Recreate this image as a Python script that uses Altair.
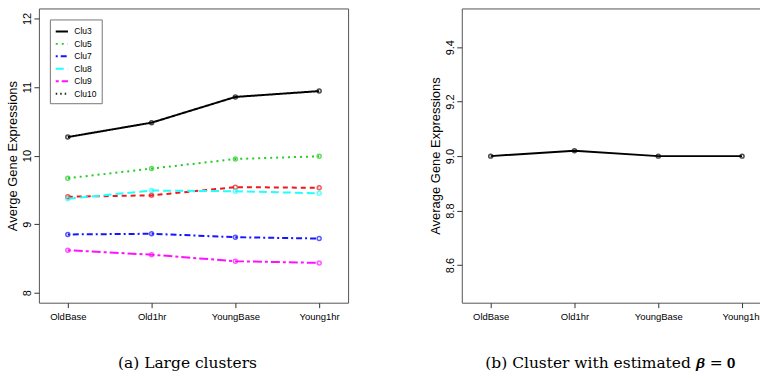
import altair as alt
import pandas as pd

stages = ["OldBase", "Old1hr", "YoungBase", "Young1hr"]

clu3 = [10.27, 10.48, 10.855, 10.94]
clu4 = [9.40, 9.42, 9.54, 9.53]
clu5 = [9.67, 9.81, 9.95, 9.99]
clu7 = [8.85, 8.86, 8.81, 8.79]
clu8 = [9.37, 9.49, 9.48, 9.45]
clu9 = [8.62, 8.555, 8.46, 8.435]
beta0 = [9.0, 9.02, 9.0, 9.0]

series_names = ["Clu3", "Clu4", "Clu5", "Clu7", "Clu8", "Clu9", "Clu10"]
legend_names = ["Clu3", "Clu5", "Clu7", "Clu8", "Clu9", "Clu10"]
series_colors = ["#000000", "#f01818", "#22cc22", "#1515ff", "#22ffff", "#ff10ff", "#222222"]
series_dashes = [[1, 0], [5, 4], [2, 4], [2, 3, 6, 3], [8, 4], [3, 3, 9, 3], [1.5, 3]]

large = {"Clu3": clu3, "Clu4": clu4, "Clu5": clu5, "Clu7": clu7,
         "Clu8": clu8, "Clu9": clu9}
rows = []
for name, vals in large.items():
    for s, v in zip(stages, vals):
        rows.append({"series": name, "stage": s, "value": v})
df_left = pd.DataFrame(rows)
df_right = pd.DataFrame({"stage": stages, "value": beta0})

SANS = "Liberation Sans"
W, H = 310, 295
xscale = alt.Scale(domain=stages, type="point", padding=0.345)
xaxis = alt.Axis(title=None, labelFont=SANS, labelFontSize=9.5,
                 labelPadding=4, tickSize=5, domain=False, labelAngle=0)


def make_legend():
    return alt.Legend(values=legend_names, title=None, orient="none",
                      legendX=11, legendY=11, symbolType="stroke",
                      symbolSize=150, symbolStrokeWidth=2,
                      labelFont=SANS, labelFontSize=8.5,
                      labelOffset=5, rowPadding=0.5, padding=4.5,
                      strokeColor="#777", fillColor="white")


color = alt.Color("series:N", scale=alt.Scale(domain=series_names, range=series_colors),
                  legend=make_legend())
dash = alt.StrokeDash("series:N", scale=alt.Scale(domain=series_names, range=series_dashes),
                      legend=make_legend())

yleft = alt.Y("value:Q", scale=alt.Scale(domain=[7.855, 12.145], nice=False, zero=False),
              axis=alt.Axis(title="Averge Gene Expressions", values=[8, 9, 10, 11, 12],
                            labelAngle=-90, labelFontSize=11, labelPadding=1, tickSize=5,
                            titleFontSize=13, titleFontWeight="normal", titlePadding=2,
                            domain=False))

lines = alt.Chart(df_left).mark_line(strokeWidth=2).encode(
    x=alt.X("stage:N", scale=xscale, axis=xaxis, sort=stages),
    y=yleft, color=color, strokeDash=dash,
)
pts = alt.Chart(df_left).mark_point(shape="circle", filled=False, size=16, strokeWidth=1.5).encode(
    x=alt.X("stage:N", scale=xscale, axis=xaxis, sort=stages),
    y=yleft,
    color=alt.Color("series:N", scale=alt.Scale(domain=series_names, range=series_colors), legend=None),
)
left = alt.layer(lines, pts).properties(
    width=W, height=H,
    title=alt.TitleParams("(a) Large clusters", orient="bottom", offset=35, dx=-6),
)

yright = alt.Y("value:Q", scale=alt.Scale(domain=[8.462, 9.542], nice=False, zero=False),
               axis=alt.Axis(title="Average Gene Expressions", values=[8.6, 8.8, 9.0, 9.2, 9.4],
                             format=".1f", labelAngle=-90, labelFontSize=11, labelPadding=1,
                             tickSize=5, titleFontSize=13, titleFontWeight="normal",
                             titlePadding=2, domain=False))
rline = alt.Chart(df_right).mark_line(strokeWidth=2, color="black").encode(
    x=alt.X("stage:N", scale=xscale, axis=xaxis, sort=stages), y=yright)
rpts = alt.Chart(df_right).mark_point(shape="circle", filled=False, size=16, strokeWidth=1.5,
                                      color="black").encode(
    x=alt.X("stage:N", scale=xscale, axis=xaxis, sort=stages), y=yright)
right = alt.layer(rline, rpts).properties(
    width=W, height=H,
    title=alt.TitleParams("(b) Cluster with estimated \U0001D737 = \U0001D7CE", orient="bottom",
                          offset=35, dx=-6),
)

chart = alt.hconcat(left, right, spacing=80).properties(
    padding={"left": 6, "top": 7, "right": -12, "bottom": 0},
    background="white",
).configure_view(stroke="#555", strokeWidth=1).configure_axis(
    grid=False, labelColor="black", titleColor="black", tickColor="#333",
    labelFont=SANS, titleFont=SANS,
).configure_title(font="DejaVu Serif", fontSize=15.5, fontWeight="normal", color="black")

chart.save("out.html", embed_options={"renderer": "svg", "actions": False})
